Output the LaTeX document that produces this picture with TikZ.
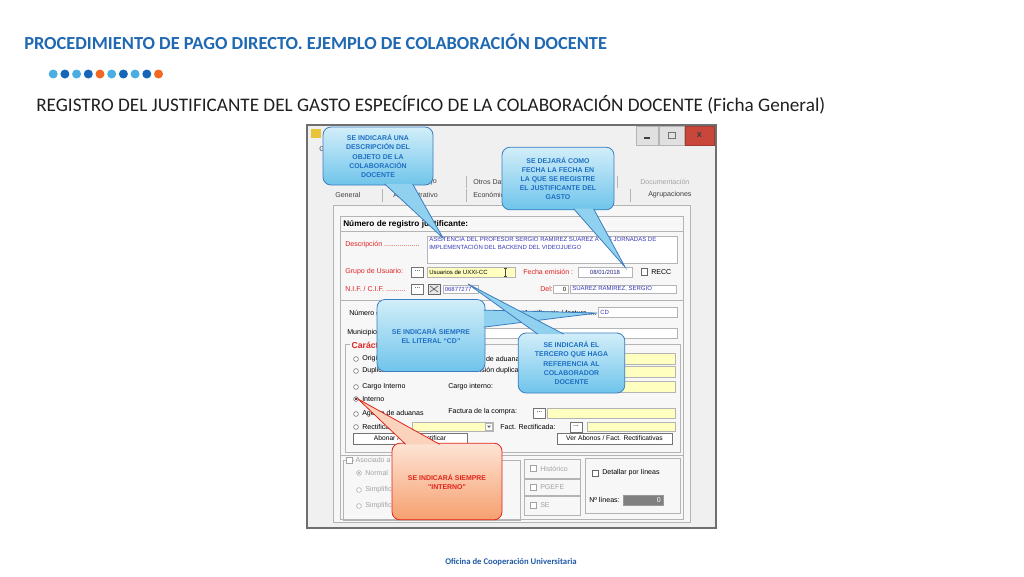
\documentclass[tikz,border=0pt]{standalone}
\usepackage{fontspec}
\setmainfont{Carlito}
\newfontfamily\winfont{Liberation Sans}
\usetikzlibrary{calc}
\definecolor{titleblue}{HTML}{1F68B2}
\definecolor{footblue}{HTML}{1F5AA6}
\definecolor{dotlight}{HTML}{4AAEE3}
\definecolor{dotdark}{HTML}{1565B8}
\definecolor{dotorange}{HTML}{F26722}
\definecolor{winframe}{HTML}{6F6F6F}
\definecolor{winface}{HTML}{F0F0F0}
\definecolor{pageface}{HTML}{F7F7F7}
\definecolor{edgegray}{HTML}{B4B4B4}
\definecolor{fieldyellow}{HTML}{FFFFC0}
\definecolor{formred}{HTML}{E02424}
\definecolor{fieldblue}{HTML}{3636B8}
\definecolor{grayed}{HTML}{A3A3A3}
\definecolor{tabtext}{HTML}{404040}
\definecolor{winicon}{HTML}{E8C43A}
\definecolor{closered}{HTML}{C9473A}
\definecolor{noteedge}{HTML}{3B7DBE}
\definecolor{notetext}{HTML}{1E6EC4}
\definecolor{notetop}{HTML}{D2EEF9}
\definecolor{notebot}{HTML}{6FC4EB}
\definecolor{notetail}{HTML}{8FD1EF}
\definecolor{rededge}{HTML}{E2231A}
\definecolor{redtop}{HTML}{FDE4D5}
\definecolor{redbot}{HTML}{F6A06F}
\definecolor{redtail}{HTML}{FBD2BB}
\newcommand{\winsz}[2]{\winfont\fontsize{#1}{#2}\selectfont}
\newcommand{\dotbtn}[3]{%
    \draw[btnbox] (#2-6,#3-5) rectangle (#2+6,#3+5);
    \node[lbl, anchor=center] (#1) at (#2,#3-1) {...};%
}

\begin{document}
\begin{tikzpicture}[x=0.75pt,y=-0.75pt,
    lbl/.style={font=\winsz{5.3}{6}, inner sep=0pt, anchor=west},
    redlbl/.style={lbl, text=formred},
    graylbl/.style={lbl, text=grayed},
    tablbl/.style={lbl, text=tabtext},
    valtxt/.style={lbl, font=\winsz{4.5}{5.4}},
    field/.style={draw=edgegray, fill=white, line width=0.4pt},
    yfield/.style={draw=edgegray, fill=fieldyellow, line width=0.4pt},
    btnbox/.style={draw=black!55, fill=white, line width=0.4pt},
    radio/.style={draw=black!60, fill=white, line width=0.4pt},
    group/.style={draw=edgegray, line width=0.4pt},
    bluenote/.style={draw=noteedge, line width=0.6pt, rounded corners=6pt,
        top color=notetop, bottom color=notebot, text=notetext,
        font=\winfont\bfseries\fontsize{5.2}{6.8}\selectfont, align=center, inner sep=0pt},
    bluetail/.style={draw=noteedge, line width=0.6pt, fill=notetail},
    rednote/.style={bluenote, draw=rededge, top color=redtop, bottom color=redbot, text=rededge},
    redtail/.style={bluetail, draw=rededge, fill=redtail}]
\useasboundingbox (0,0) rectangle (1024,576);

% heading
\node[anchor=west, inner sep=0pt, text=titleblue, font=\bfseries\fontsize{13.8}{16}\selectfont] (title) at (24,42)
    {PROCEDIMIENTO DE PAGO DIRECTO. EJEMPLO DE COLABORACIÓN DOCENTE};
\foreach \c [count=\i] in {dotlight,dotdark,dotlight,dotdark,dotorange,dotlight,dotdark,dotlight,dotdark,dotorange}
    \fill[\c] (41.5+11.7*\i,74) circle (4.5);
\node[anchor=west, inner sep=0pt, text=black!88, font=\fontsize{14.4}{16}\selectfont] (subtitle) at (36,105)
    {REGISTRO DEL JUSTIFICANTE DEL GASTO ESPECÍFICO DE LA COLABORACIÓN DOCENTE (Ficha General)};
\node[text=footblue, font=\bfseries\fontsize{6.5}{8}\selectfont] (footer) at (511,562) {Oficina de Cooperación Universitaria};

% window
\draw[winframe, line width=1.2pt, fill=winface] (307,125) rectangle (716,528);
\fill[winicon] (311,129) rectangle (321,138);
\draw[edgegray, fill=black!12] (636,126) rectangle (658,145);
\draw[edgegray, fill=black!12] (659,126) rectangle (684,145);
\draw[closered!80!black, fill=closered] (685,126) rectangle (714,145);
\draw[line width=1.2pt, black!75] (644,138) -- (650,138);
\draw[black!55] (668,132) rectangle (675,138);
\node[font=\winsz{7}{8}\bfseries, text=black!75, inner sep=0pt] (closeX) at (699.5,135) {x};
\node[tablbl] (menuG) at (319,149) {G};

% tabs
\foreach \x in {466,617} \draw[edgegray] (\x,176) -- (\x,188);
\foreach \x in {382,466,630} \draw[edgegray] (\x,189) -- (\x,202);
\node[tablbl, anchor=east] (tabFlujo) at (437,182) {Flujo};
\node[tablbl] (tabOtros) at (473,182) {Otros Datos};
\node[graylbl] (tabDoc) at (640,182) {Documentación};
\node[tablbl] (tabGeneral) at (335,195) {General};
\node[tablbl, anchor=east] (tabAdmin) at (438,195) {Administrativo};
\node[tablbl] (tabEcon) at (473,195) {Económico};
\node[tablbl] (tabAgrup) at (648,195) {Agrupaciones};

% ficha general
\draw[group, fill=pageface] (333,205) rectangle (690,522);
\draw[group] (340,216) rectangle (683,519);
\draw[group] (340,231) -- (683,231);
\node[lbl, font=\winsz{6.2}{7}\bfseries] (hdrNum) at (343,224) {Número de registro justificante:};

\node[redlbl] (lblDesc) at (345,245) {Descripción ..................};
\draw[field] (427,236) rectangle (677,263);
\node[valtxt, text=fieldblue, align=left, anchor=north west] (txtDesc) at (429,237.5)
    {ASISTENCIA DEL PROFESOR SERGIO RAMIREZ SUAREZ A LAS JORNADAS DE\\IMPLEMENTACIÓN DEL BACKEND DEL VIDEOJUEGO};

\node[redlbl] (lblGrupo) at (345,272) {Grupo de Usuario:};
\dotbtn{btnGrupo}{417.5}{272}
\draw[yfield] (427,267) rectangle (515,277);
\node[valtxt] (txtGrupo) at (429,272) {Usuarios de UXXI-CC};
\draw[black!70] (505,268) -- (505,276) (503.5,268) -- (506.5,268) (503.5,276) -- (506.5,276);
\node[redlbl] (lblFecha) at (523,272) {Fecha emisión :};
\draw[field] (578,267) rectangle (632,277);
\node[valtxt, anchor=center, text=fieldblue!70!black] (txtFecha) at (605,272) {08/01/2018};
\draw[field, draw=black!60] (641,268.5) rectangle (647,275);
\node[lbl] (lblRecc) at (651,272) {RECC};

\node[redlbl] (lblNif) at (345,289) {N.I.F. / C.I.F. ..........};
\dotbtn{btnNif}{417.5}{289}
\draw[black!60, fill=black!10] (428,284) rectangle (440,294);
\draw[black!70] (430,286) -- (438,292) (430,292) -- (438,286);
\draw[field] (443,285) rectangle (478,293);
\node[valtxt, text=fieldblue] (txtNif) at (444.5,289) {06877277};
\node[redlbl] (lblDel) at (540,289) {Del:};
\draw[field] (553,285) rectangle (568,293);
\node[valtxt, anchor=east] (txtDel) at (566.5,289) {0};
\draw[field] (570,285) rectangle (676,293);
\node[valtxt, text=fieldblue] (txtTercero) at (572,289) {SUAREZ RAMIREZ, SERGIO};

\draw[group] (340,300) rectangle (683,455);
\node[lbl] (lblNumero) at (349,313) {Número de factura};
\node[lbl, anchor=east] (lblJust) at (597,313) {Justificante / factura ....};
\draw[field] (598,307) rectangle (677,317);
\node[valtxt, text=fieldblue] (txtCD) at (600,312) {CD};
\node[lbl] (lblMunicipio) at (347,333) {Municipio};
\draw[field] (450,328) rectangle (677,338);

% caracter
\draw[group] (345,344) rectangle (680,452);
\node[lbl, text=formred, font=\winsz{6.5}{7}\bfseries, fill=pageface, inner xsep=1pt] (lblCaracter) at (350,345) {Carácter};
\foreach \t/\y [count=\i] in {Original/359, Duplicado/371, Cargo Interno/387, Interno/399, Agente de aduanas/414, Rectificativa/427} {
    \draw[radio] (356,\y) circle (2.4);
    \node[lbl] (radio\i) at (362,\y) {\t};
}
\fill[black] (356,399) circle (1.1);
\node[lbl] (lblAduana) at (452,359) {Pendiente de aduanas:};
\node[lbl] (lblDupl) at (448,371) {Fecha emisión duplicado:};
\node[lbl] (lblCargo) at (448,387) {Cargo interno:};
\draw[yfield] (535,353) rectangle (675,364);
\draw[yfield] (535,366) rectangle (675,377);
\draw[yfield] (535,381) rectangle (675,392);
\node[lbl] (lblCompra) at (448,412) {Factura de la compra:};
\dotbtn{btnCompra}{539.5}{413}
\draw[yfield] (547,408) rectangle (675,418);
\draw[yfield] (412,422) rectangle (493,431);
\draw[field] (485,423) rectangle (492.5,430.5);
\fill[black!60] (487,425.5) -- (491,425.5) -- (489,428) -- cycle;
\node[lbl] (lblFactRect) at (500,427) {Fact. Rectificada:};
\dotbtn{btnRect}{576}{427}
\draw[yfield] (587,422) rectangle (675,431);
\draw[btnbox] (353,433) rectangle (467,444);
\node[lbl, anchor=center, font=\winsz{5}{6}] (btnAbonar) at (410,438.5) {Abonar / Fact. Rectificar};
\draw[btnbox] (557,433) rectangle (672,444);
\node[lbl, anchor=center, font=\winsz{5}{6}] (btnVer) at (614.5,438.5) {Ver Abonos / Fact. Rectificativas};

% lower groups
\draw[group] (343,460) rectangle (520,520);
\draw[radio, draw=grayed] (346,457) rectangle (352,463);
\node[graylbl, fill=pageface, inner xsep=1pt] (lblAsociado) at (354,461) {Asociado a otro justificante};
\foreach \t/\y [count=\i] in {Normal/473, Simplificada/490, Simplificada/506} {
    \draw[radio, draw=grayed] (359,\y) circle (2.4);
    \node[graylbl] (asoc\i) at (365,\y) {\t};
}
\fill[grayed] (359,473) circle (1.1);
\foreach \t/\ya/\yb [count=\i] in {Histórico/459/478, PGEFE/479/495, SE/496/515} {
    \draw[group] (524,\ya) rectangle (580,\yb);
    \draw[radio, draw=grayed] (530,{(\ya+\yb)/2-3}) rectangle (536,{(\ya+\yb)/2+3});
    \node[graylbl] (chk\i) at (540,{(\ya+\yb)/2}) {\t};
}
\draw[group] (585,458) rectangle (680,513);
\draw[radio] (592,470) rectangle (598,476);
\node[lbl] (lblDetallar) at (602,473) {Detallar por líneas};
\node[lbl, anchor=east] (lblLineas) at (620,500) {Nº líneas:};
\draw[black!40, fill=black!50] (623,495) rectangle (663,505);
\node[lbl, anchor=east, text=white] (txtLineas) at (661,500) {0};

% callouts
\node[bluenote, minimum width=82.5pt, minimum height=43.5pt] (noteDesc) at (378,156)
    {SE INDICARÁ UNA\\DESCRIPCIÓN DEL\\OBJETO DE LA\\COLABORACIÓN\\DOCENTE};
\coordinate (tipDesc) at (443,238);
\path[bluetail] ($(noteDesc.south west)+(62,-1.5)$) -- (tipDesc) -- ($(noteDesc.south west)+(90,-1.5)$);

\node[bluenote, minimum width=84pt, minimum height=47pt] (noteFecha) at (558,178.5)
    {SE DEJARÁ COMO\\FECHA LA FECHA EN\\LA QUE SE REGISTRE\\EL JUSTIFICANTE DEL\\GASTO};
\coordinate (tipFecha) at (625,267);
\path[bluetail] ($(noteFecha.south west)+(72,-1.5)$) -- (tipFecha) -- ($(noteFecha.south west)+(92,-1.5)$);

\node[bluenote, minimum width=81pt, minimum height=54pt] (noteCD) at (431,335.5)
    {SE INDICARÁ SIEMPRE\\EL LITERAL “CD”};
\coordinate (tipCD) at (597,313);
\path[bluetail] ($(noteCD.north east)+(-1.5,11)$) -- (tipCD) -- ($(noteCD.north east)+(-1.5,28)$);

\node[bluenote, minimum width=80pt, minimum height=45pt] (noteNif) at (571.5,363)
    {SE INDICARÁ EL\\TERCERO QUE HAGA\\REFERENCIA AL\\COLABORADOR\\DOCENTE};
\coordinate (tipNif) at (468,284);
\path[bluetail] ($(noteNif.north west)+(20,1.5)$) -- (tipNif) -- ($(noteNif.north west)+(46,1.5)$);

\node[rednote, minimum width=82.5pt, minimum height=57.5pt] (noteInterno) at (447,481.5)
    {SE INDICARÁ SIEMPRE\\"INTERNO"};
\coordinate (tipInterno) at (358,399);
\path[redtail] ($(noteInterno.north west)+(14,1.5)$) -- (tipInterno) -- ($(noteInterno.north west)+(48,1.5)$);
\end{tikzpicture}
\end{document}
